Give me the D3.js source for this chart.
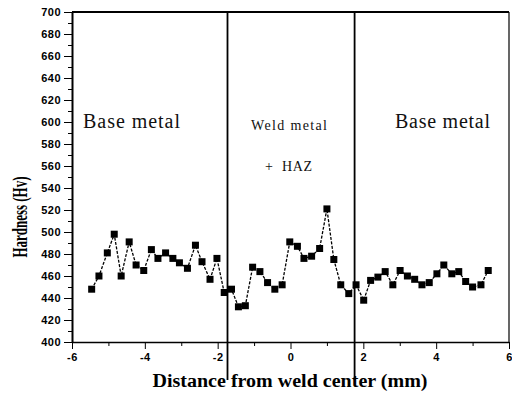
<!DOCTYPE html>
<meta charset="utf-8">
<html>
    <style>
    body { margin: 0; background: #fff; }
    .tick text {
        font-family: "Liberation Sans", Arial, sans-serif;
        font-weight: bold;
        font-size: 11px;
        letter-spacing: 0.5px;
    }
    .zone {
        font-family: "Liberation Serif", "Times New Roman", serif;
        fill: #111;
    }
    .title {
        font-family: "Liberation Serif", "Times New Roman", serif;
        font-weight: bold;
    }
    </style>
    <body>
        <svg width="512" height="401"></svg>
    </body>

    <script src="https://cdnjs.cloudflare.com/ajax/libs/d3/7.8.5/d3.min.js"></script>
    <script>

    // distance from weld center (mm)
    var distance = [-5.46, -5.26, -5.03, -4.84, -4.65, -4.43, -4.24, -4.03, -3.82, -3.64,
                    -3.43, -3.23, -3.05, -2.83, -2.61, -2.43, -2.21, -2.02, -1.82, -1.62,
                    -1.43, -1.24, -1.04, -0.84, -0.63, -0.43, -0.23, -0.02, 0.19, 0.37,
                    0.58, 0.80, 1.00, 1.19, 1.38, 1.60, 1.80, 2.01, 2.20, 2.40,
                    2.60, 2.81, 3.01, 3.21, 3.41, 3.61, 3.81, 4.02, 4.21, 4.43,
                    4.62, 4.81, 5.00, 5.23, 5.43];

    // hardness (Hv)
    var hardness = [448, 460, 481, 498, 460, 491, 470, 465, 484, 476,
                    481, 476, 472, 467, 488, 473, 457, 476, 445, 448,
                    432, 433, 468, 464, 454, 448, 452, 491, 487, 476,
                    478, 485, 521, 475, 452, 444, 452, 438, 456, 459,
                    464, 452, 465, 460, 457, 452, 454, 462, 470, 462,
                    464, 455, 450, 452, 465];

    var zoneBounds = [-1.73, 1.76];
    var xTicks = [-6, -4, -2, 0, 2, 4, 6];
    var yTicks = [400, 420, 440, 460, 480, 500, 520, 540, 560, 580, 600, 620, 640, 660, 680, 700];

    var svg = d3.select("svg");
    var pLeft = 72, pRight = 509, pTop = 12, pBottom = 342;

    var x = d3.scaleLinear().domain([-6, 6]).range([pLeft, pRight]);
    var y = d3.scaleLinear().domain([400, 700]).range([pBottom, pTop]);

    var plain = function(d) { return String(d); }; // keep ascii hyphen for negatives

    // minor ticks
    svg.append("g")
        .attr("transform", "translate(" + pLeft + ",0)")
        .call(d3.axisLeft(y).tickValues(d3.range(410, 700, 20)).tickSize(4).tickFormat(""))
        .call(function(g) { g.select(".domain").remove(); });
    svg.append("g")
        .attr("transform", "translate(0," + pBottom + ")")
        .call(d3.axisBottom(x).tickValues([-5, -3, -1, 1, 3, 5]).tickSize(4).tickFormat(""))
        .call(function(g) { g.select(".domain").remove(); });

    // main axes
    svg.append("g")
        .attr("transform", "translate(" + pLeft + ",0)")
        .call(d3.axisLeft(y).tickValues(yTicks).tickSize(8).tickPadding(3).tickFormat(plain).tickSizeOuter(0))
        .select(".domain").attr("stroke-width", 2);

    svg.append("g")
        .attr("transform", "translate(0," + pBottom + ")")
        .call(d3.axisBottom(x).tickValues(xTicks).tickSize(7).tickPadding(4).tickFormat(plain).tickSizeOuter(0))
        .select(".domain").attr("stroke-width", 1.5);

    // frame top + right
    svg.append("line")
        .attr("x1", pLeft).attr("x2", pRight).attr("y1", pTop).attr("y2", pTop)
        .attr("stroke", "#000").attr("stroke-width", 2);
    svg.append("line")
        .attr("x1", pRight).attr("x2", pRight).attr("y1", pTop).attr("y2", pBottom)
        .attr("stroke", "#000").attr("stroke-width", 1.2);

    // zone dividers
    svg.selectAll(".divider")
        .data(zoneBounds)
        .enter().append("line")
        .attr("class", "divider")
        .attr("x1", function(d) { return x(d); })
        .attr("x2", function(d) { return x(d); })
        .attr("y1", pTop)
        .attr("y2", 380)
        .attr("stroke", "#000")
        .attr("stroke-width", 1.8);

    // zone labels
    svg.append("text").attr("class", "zone")
        .attr("x", 83).attr("y", 128)
        .attr("font-size", 20)
        .attr("textLength", 97)
        .text("Base metal");
    svg.append("text").attr("class", "zone")
        .attr("x", 395).attr("y", 128)
        .attr("font-size", 20)
        .attr("textLength", 95)
        .text("Base metal");
    svg.append("text").attr("class", "zone")
        .attr("x", 251).attr("y", 130)
        .attr("font-size", 14)
        .attr("textLength", 76)
        .text("Weld metal");
    svg.append("text").attr("class", "zone")
        .attr("x", 265).attr("y", 171)
        .attr("font-size", 14)
        .attr("textLength", 47)
        .attr("xml:space", "preserve")
        .text("+  HAZ");

    var pts = distance.map(function(d, i) { return [d, hardness[i]]; });

    var line = d3.line()
        .x(function(d) { return x(d[0]); })
        .y(function(d) { return y(d[1]); });

    svg.append("path")
        .datum(pts)
        .attr("d", line)
        .attr("fill", "none")
        .attr("stroke", "#000")
        .attr("stroke-width", 1.3)
        .attr("stroke-dasharray", "3,1.5");

    svg.selectAll(".pt")
        .data(pts)
        .enter().append("rect")
        .attr("class", "pt")
        .attr("x", function(d) { return x(d[0]) - 3.5; })
        .attr("y", function(d) { return y(d[1]) - 3.5; })
        .attr("width", 7)
        .attr("height", 7)
        .attr("fill", "#000");

    // axis titles
    svg.append("text").attr("class", "title")
        .attr("x", 290).attr("y", 387)
        .attr("text-anchor", "middle")
        .attr("font-size", 18)
        .attr("textLength", 275)
        .attr("lengthAdjust", "spacingAndGlyphs")
        .text("Distance from weld center (mm)");

    svg.append("text").attr("class", "title")
        .attr("transform", "translate(27,217) rotate(-90)")
        .attr("text-anchor", "middle")
        .attr("font-size", 21)
        .attr("textLength", 81)
        .attr("lengthAdjust", "spacingAndGlyphs")
        .text("Hardness (Hv)");

    </script>
</html>
